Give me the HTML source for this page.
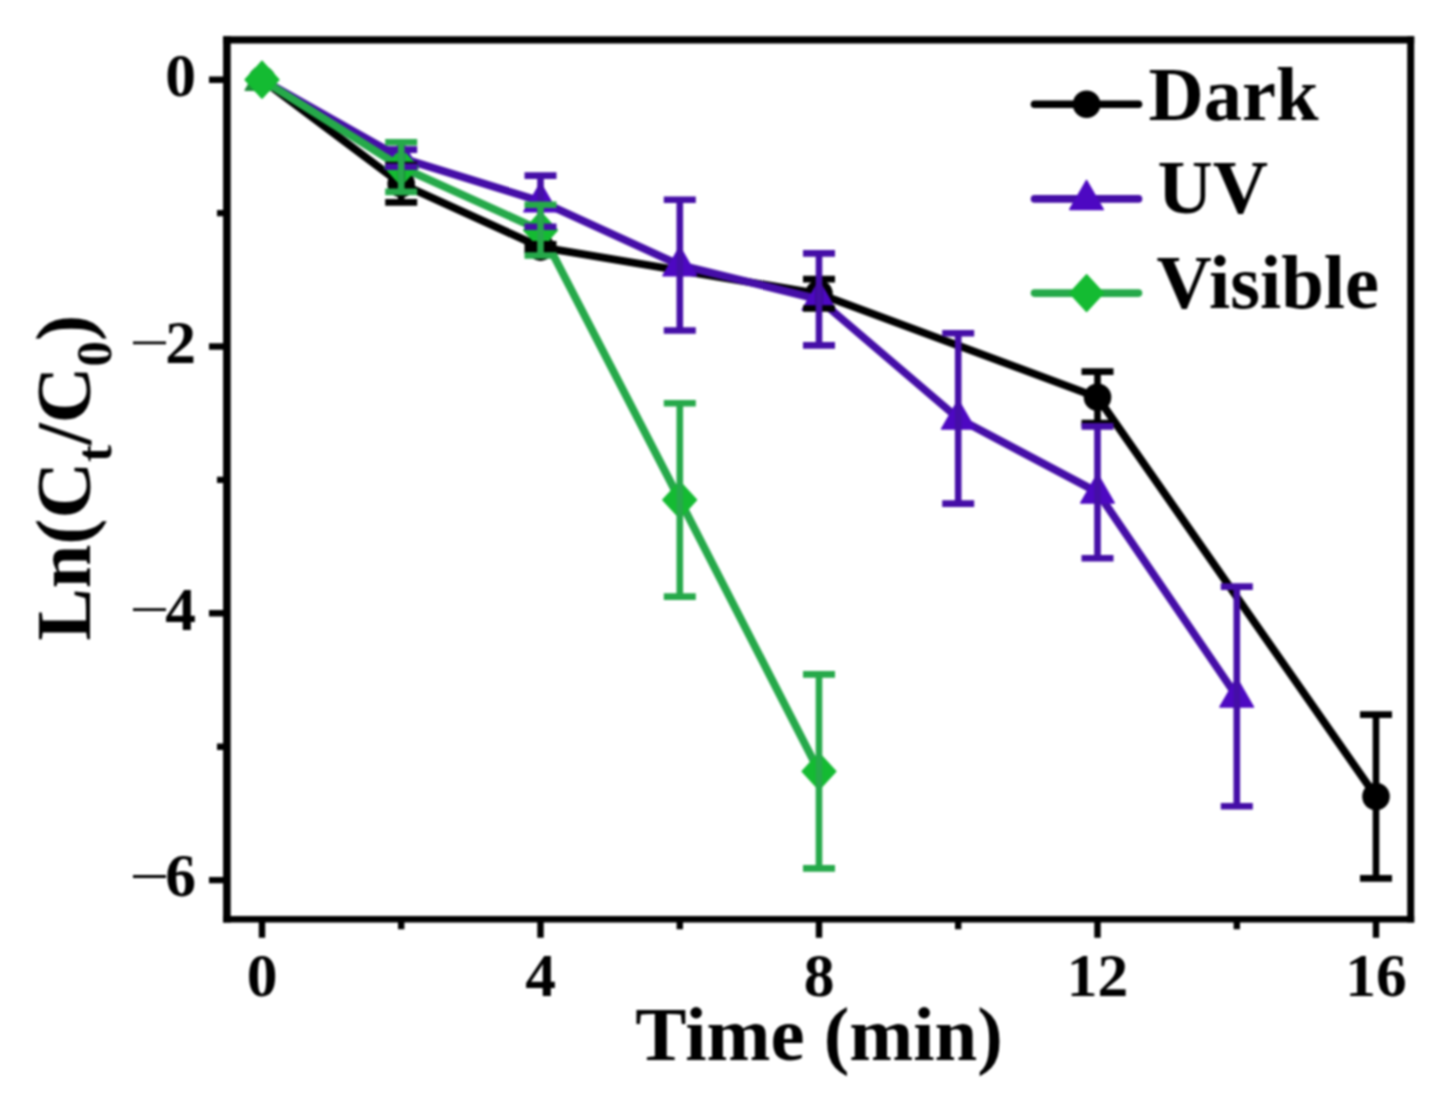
<!DOCTYPE html>
<html><head><meta charset="utf-8"><title>Ln(Ct/C0) vs Time</title>
<style>
html,body{margin:0;padding:0;background:#fff;}
body{width:1451px;height:1115px;overflow:hidden;}
svg{display:block;filter:blur(0.85px);}
text{font-family:"Liberation Serif",serif;font-weight:bold;fill:#000;}
</style></head><body>
<svg width="1451" height="1115" viewBox="0 0 1451 1115">
<rect width="1451" height="1115" fill="#fff"/>
<g id="data">
<polyline points="262.0,79.7 401.2,183.8 540.5,247.1 819.0,293.8 1097.5,397.3 1376.0,796.5" fill="none" stroke="#000000" stroke-width="7.8" stroke-linejoin="round"/>
<circle cx="262.0" cy="79.7" r="13.8" fill="#1f8a3a"/>
<circle cx="401.2" cy="183.8" r="13.8" fill="#000000"/>
<circle cx="540.5" cy="247.1" r="13.8" fill="#000000"/>
<circle cx="819.0" cy="293.8" r="13.8" fill="#000000"/>
<circle cx="1097.5" cy="397.3" r="13.8" fill="#000000"/>
<circle cx="1376.0" cy="796.5" r="13.8" fill="#000000"/>
<polyline points="262.0,79.7 401.2,158.1 540.5,201.2 679.8,265.1 819.0,299.4 958.2,418.4 1097.5,492.3 1236.8,696.4" fill="none" stroke="#450ea7" stroke-width="7.8" stroke-linejoin="round"/>
<path d="M262.0 61.3L278.8 90.3H245.2Z" fill="#1f8a3a" stroke="#1f8a3a" stroke-width="1.5" stroke-linejoin="round"/>
<path d="M401.2 139.7L418.0 168.7H384.5Z" fill="#4d08c2" stroke="#4d08c2" stroke-width="1.5" stroke-linejoin="round"/>
<path d="M540.5 182.8L557.2 211.8H523.8Z" fill="#4d08c2" stroke="#4d08c2" stroke-width="1.5" stroke-linejoin="round"/>
<path d="M679.8 246.7L696.5 275.7H663.0Z" fill="#4d08c2" stroke="#4d08c2" stroke-width="1.5" stroke-linejoin="round"/>
<path d="M819.0 281.0L835.8 310.0H802.2Z" fill="#4d08c2" stroke="#4d08c2" stroke-width="1.5" stroke-linejoin="round"/>
<path d="M958.2 400.0L975.0 429.0H941.5Z" fill="#4d08c2" stroke="#4d08c2" stroke-width="1.5" stroke-linejoin="round"/>
<path d="M1097.5 473.9L1114.2 502.9H1080.8Z" fill="#4d08c2" stroke="#4d08c2" stroke-width="1.5" stroke-linejoin="round"/>
<path d="M1236.8 678.0L1253.5 707.0H1220.0Z" fill="#4d08c2" stroke="#4d08c2" stroke-width="1.5" stroke-linejoin="round"/>
<polyline points="262.0,79.7 401.2,167.1 540.5,230.2 679.8,499.9 819.0,771.4" fill="none" stroke="#26a94a" stroke-width="7.8" stroke-linejoin="round"/>
<path d="M262.0 61.7L278.5 79.7L262.0 97.7L245.5 79.7Z" fill="#14bb32" stroke="#14bb32" stroke-width="2" stroke-linejoin="round"/>
<path d="M401.2 149.1L417.8 167.1L401.2 185.1L384.8 167.1Z" fill="#14bb32" stroke="#14bb32" stroke-width="2" stroke-linejoin="round"/>
<path d="M540.5 212.2L557.0 230.2L540.5 248.2L524.0 230.2Z" fill="#14bb32" stroke="#14bb32" stroke-width="2" stroke-linejoin="round"/>
<path d="M679.8 481.9L696.2 499.9L679.8 517.9L663.2 499.9Z" fill="#14bb32" stroke="#14bb32" stroke-width="2" stroke-linejoin="round"/>
<path d="M819.0 753.4L835.5 771.4L819.0 789.4L802.5 771.4Z" fill="#14bb32" stroke="#14bb32" stroke-width="2" stroke-linejoin="round"/>
<path d="M401.2 165.1V202.4M385.2 165.1H417.2M385.2 202.4H417.2" stroke="#000000" stroke-width="6.6" fill="none"/>
<path d="M540.5 244.2V250.1M524.5 244.2H556.5M524.5 250.1H556.5" stroke="#000000" stroke-width="6.6" fill="none"/>
<path d="M819.0 279.1V308.5M803.0 279.1H835.0M803.0 308.5H835.0" stroke="#000000" stroke-width="6.6" fill="none"/>
<path d="M1097.5 371.6V423.1M1081.5 371.6H1113.5M1081.5 423.1H1113.5" stroke="#000000" stroke-width="6.6" fill="none"/>
<path d="M1376.0 714.6V878.4M1360.0 714.6H1392.0M1360.0 878.4H1392.0" stroke="#000000" stroke-width="6.6" fill="none"/>
<path d="M401.2 149.6V166.7M385.2 149.6H417.2M385.2 166.7H417.2" stroke="#450ea7" stroke-width="6.6" fill="none"/>
<path d="M540.5 175.6V226.8M524.5 175.6H556.5M524.5 226.8H556.5" stroke="#450ea7" stroke-width="6.6" fill="none"/>
<path d="M679.8 199.8V330.5M663.8 199.8H695.8M663.8 330.5H695.8" stroke="#450ea7" stroke-width="6.6" fill="none"/>
<path d="M819.0 253.4V345.4M803.0 253.4H835.0M803.0 345.4H835.0" stroke="#450ea7" stroke-width="6.6" fill="none"/>
<path d="M958.2 333.2V503.6M942.2 333.2H974.2M942.2 503.6H974.2" stroke="#450ea7" stroke-width="6.6" fill="none"/>
<path d="M1097.5 426.4V558.2M1081.5 426.4H1113.5M1081.5 558.2H1113.5" stroke="#450ea7" stroke-width="6.6" fill="none"/>
<path d="M1236.8 586.6V806.2M1220.8 586.6H1252.8M1220.8 806.2H1252.8" stroke="#450ea7" stroke-width="6.6" fill="none"/>
<path d="M401.2 142.3V191.9M385.2 142.3H417.2M385.2 191.9H417.2" stroke="#26a94a" stroke-width="6.6" fill="none"/>
<path d="M540.5 204.8V255.5M524.5 204.8H556.5M524.5 255.5H556.5" stroke="#26a94a" stroke-width="6.6" fill="none"/>
<path d="M679.8 403.2V596.6M663.8 403.2H695.8M663.8 596.6H695.8" stroke="#26a94a" stroke-width="6.6" fill="none"/>
<path d="M819.0 674.4V868.4M803.0 674.4H835.0M803.0 868.4H835.0" stroke="#26a94a" stroke-width="6.6" fill="none"/>
</g>
<g id="axes">
<path d="M226.9 36.15V922.5" stroke="#000" stroke-width="7.6"/><path d="M1410.7 36.15V922.5" stroke="#000" stroke-width="7.0"/><path d="M223.1 39.85H1414.2" stroke="#000" stroke-width="7.4"/><path d="M223.1 919.2H1414.2" stroke="#000" stroke-width="6.6"/>
<path d="M262.0 921.7v16 M401.2 921.7v7.5 M540.5 921.7v16 M679.8 921.7v7.5 M819.0 921.7v16 M958.2 921.7v7.5 M1097.5 921.7v16 M1236.8 921.7v7.5 M1376.0 921.7v16 M224.5 79.7h-15.5 M224.5 213.1h-7.5 M224.5 346.5h-15.5 M224.5 479.9h-7.5 M224.5 613.3h-15.5 M224.5 746.7h-7.5 M224.5 880.1h-15.5" stroke="#000" stroke-width="6.4" fill="none"/>
</g>
<g id="ticklabels">
<text x="262.0" y="995.8" text-anchor="middle" font-size="61.5">0</text>
<text x="540.5" y="995.8" text-anchor="middle" font-size="61.5">4</text>
<text x="819.0" y="995.8" text-anchor="middle" font-size="61.5">8</text>
<text x="1097.5" y="995.8" text-anchor="middle" font-size="61.5">12</text>
<text x="1376.0" y="995.8" text-anchor="middle" font-size="61.5">16</text>
<text x="196" y="95.9" text-anchor="end" font-size="61.5">0</text>
<text x="196" y="362.7" text-anchor="end" font-size="61.5">2</text>
<path d="M133 342.9h33" stroke="#000" stroke-width="2.8"/>
<text x="196" y="629.5" text-anchor="end" font-size="61.5">4</text>
<path d="M133 609.7h33" stroke="#000" stroke-width="2.8"/>
<text x="196" y="896.3" text-anchor="end" font-size="61.5">6</text>
<path d="M133 876.5h33" stroke="#000" stroke-width="2.8"/>
</g>
<g id="titles">
<text x="635.3" y="1059.8" font-size="76.8">Time (min)</text>
<text transform="translate(90.4,640.6) rotate(-90)" font-size="78.4">Ln(C<tspan font-size="51" dy="20.5">t</tspan><tspan dy="-20.5">/C</tspan><tspan font-size="51" dy="20.5">0</tspan><tspan dy="-20.5">)</tspan></text>
</g>
<g id="legend">
<path d="M1034.5 104.3H1138.5" stroke="#000000" stroke-width="7.6" stroke-linecap="round"/>
<circle cx="1086.6" cy="104.3" r="13.8" fill="#000000"/>
<text x="1148.5" y="119.8" font-size="76.5">Dark</text>
<path d="M1034.5 198.9H1138.5" stroke="#450ea7" stroke-width="7.6" stroke-linecap="round"/>
<path d="M1086.6 180.5L1103.3 209.5H1069.8Z" fill="#4d08c2" stroke="#4d08c2" stroke-width="1.5" stroke-linejoin="round"/>
<text x="1157.5" y="213.3" font-size="76.5">UV</text>
<path d="M1034.5 293.1H1138.5" stroke="#26a94a" stroke-width="7.6" stroke-linecap="round"/>
<path d="M1086.6 275.1L1103.1 293.1L1086.6 311.1L1070.1 293.1Z" fill="#14bb32" stroke="#14bb32" stroke-width="2" stroke-linejoin="round"/>
<text x="1156.5" y="308" font-size="76.5">Visible</text>
</g>
</svg>
</body></html>
